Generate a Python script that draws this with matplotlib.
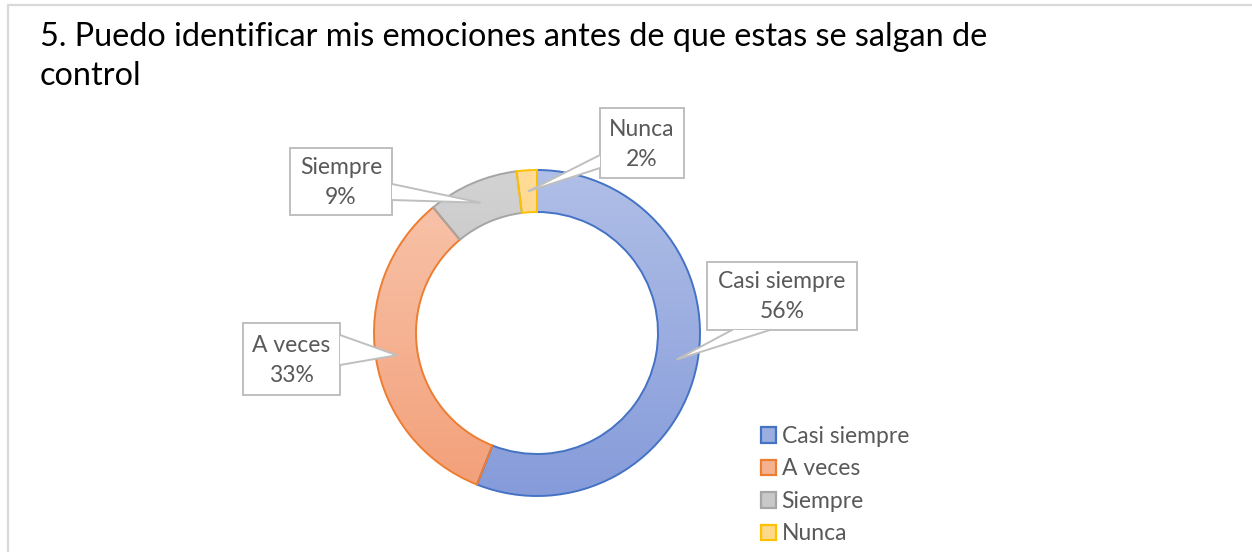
import matplotlib
matplotlib.use("Agg")
import matplotlib.pyplot as plt
import numpy as np
from matplotlib.colors import LinearSegmentedColormap
from matplotlib.patches import Patch, Rectangle, Polygon

# data
CATEGORIES = ["Casi siempre", "A veces", "Siempre", "Nunca"]
PERCENTS = [56, 33, 9, 2]

EDGE_COLORS = ["#4472C4", "#ED7D31", "#A5A5A5", "#FFC000"]
TOP_COLORS = ["#B0BFE7", "#F8C6AE", "#D3D3D3", "#FFDC98"]
BOTTOM_COLORS = ["#869BDA", "#F39F78", "#B3B3B3", "#FFC44E"]
LEGEND_FILL = ["#9AAEE0", "#F5B291", "#C8C8C8", "#FFD98A"]

TITLE_1 = "5. Puedo identificar mis emociones antes de que estas se salgan de"
TITLE_2 = "control"

W, H = 1252, 552
FONT = ["Lato", "DejaVu Sans"]
TEXT_GREY = "#595959"
LABEL_SIZE = 16.5

# layout (pixel coords, y down)
CENTER = (537, 333)
R_OUT = 163
RING = 42
BOXES = {
    "Casi siempre": ((707, 262, 857, 330), ((732, 330), (770, 330))),
    "A veces": ((243, 323, 340, 395), ((340, 335), (340, 365))),
    "Siempre": ((290, 148, 392, 215), ((392, 184), (392, 200))),
    "Nunca": ((600, 108, 684, 178), ((600, 155), (600, 168))),
}


def fy(y):
    return H - y


fig = plt.figure(figsize=(W / 100, H / 100), dpi=100)
ax = fig.add_axes([0, 0, 1, 1])

# outer chart border (top and left visible)
ax.plot([8, 8, W + 5], [-5, fy(5), fy(5)], color="#D9D9D9", lw=1.6, zorder=0)

cx, cy = CENTER[0], fy(CENTER[1])
wedges, _ = ax.pie(
    PERCENTS,
    radius=R_OUT,
    center=(cx, cy),
    startangle=90,
    counterclock=False,
    wedgeprops=dict(width=RING, linewidth=1.4),
    frame=True,
)
ax.set_xlim(0, W)
ax.set_ylim(0, H)
ax.set_aspect("equal")
ax.axis("off")

grad = np.linspace(1, 0, 256).reshape(-1, 1)
for w, ec, top, bot in zip(wedges, EDGE_COLORS, TOP_COLORS, BOTTOM_COLORS):
    cmap = LinearSegmentedColormap.from_list("g", [bot, top])
    im = ax.imshow(
        grad,
        cmap=cmap,
        extent=(cx - R_OUT, cx + R_OUT, cy - R_OUT, cy + R_OUT),
        aspect="auto",
        origin="upper",
        zorder=2,
    )
    im.set_clip_path(w)
    w.set_facecolor("none")
    w.set_edgecolor(ec)
    w.set_zorder(3)

# callout labels
r_mid = R_OUT - RING / 2
cum = np.cumsum([0] + PERCENTS)
for i, (cat, pct) in enumerate(zip(CATEGORIES, PERCENTS)):
    mid = (cum[i] + cum[i + 1]) / 2 / sum(PERCENTS)
    ang = np.deg2rad(90 - mid * 360)
    tip = (cx + r_mid * np.cos(ang), cy + r_mid * np.sin(ang))
    (x0, y0, x1, y1), (b1, b2) = BOXES[cat]
    ax.add_patch(Rectangle((x0, fy(y1)), x1 - x0, y1 - y0, facecolor="white",
                           edgecolor="#BFBFBF", lw=1.4, zorder=5))
    p1 = (b1[0], fy(b1[1]))
    p2 = (b2[0], fy(b2[1]))
    ax.add_patch(Polygon([p1, tip, p2], closed=True, facecolor="white",
                         edgecolor="none", zorder=6))
    ax.plot([p1[0], tip[0], p2[0]], [p1[1], tip[1], p2[1]], color="#BFBFBF",
            lw=1.4, zorder=7, solid_joinstyle="miter")
    bx = (x0 + x1) / 2
    by = (y0 + y1) / 2
    ax.text(bx, fy(by - 14), cat, ha="center", va="center", fontsize=LABEL_SIZE,
            color=TEXT_GREY, family=FONT, zorder=8)
    ax.text(bx, fy(by + 16), f"{pct}%", ha="center", va="center", fontsize=LABEL_SIZE,
            color=TEXT_GREY, family=FONT, zorder=8)

# title
ax.text(40, fy(46), TITLE_1, ha="left", va="baseline", fontsize=23.3,
        color="black", family=FONT)
ax.text(40, fy(85), TITLE_2, ha="left", va="baseline", fontsize=23.3,
        color="black", family=FONT)

# legend
handles = [Patch(facecolor=f, edgecolor=e, lw=1.6, label=c)
           for f, e, c in zip(LEGEND_FILL, EDGE_COLORS, CATEGORIES)]
leg = ax.legend(
    handles=handles,
    loc="upper left",
    bbox_to_anchor=(761 / W, 1 - 426 / H),
    frameon=False,
    handlelength=0.65,
    handleheight=0.65,
    handletextpad=0.25,
    labelspacing=0.5,
    borderaxespad=0,
    borderpad=0,
    prop={"family": FONT, "size": LABEL_SIZE},
)
for t in leg.get_texts():
    t.set_color(TEXT_GREY)

fig.savefig("out.png", dpi=100)
